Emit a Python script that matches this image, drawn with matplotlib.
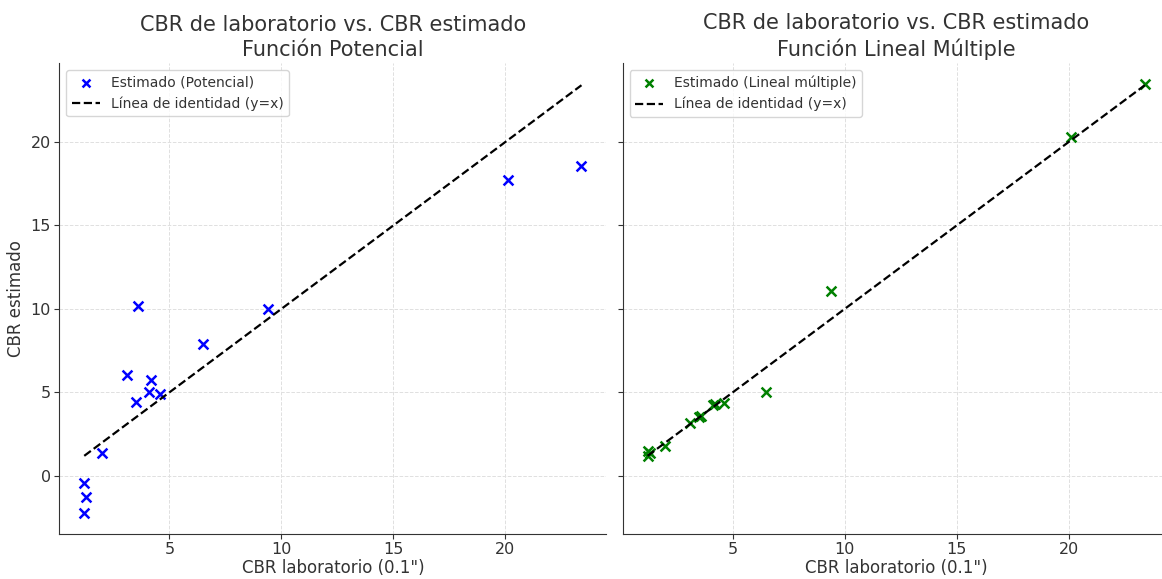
# CBR de laboratorio vs. CBR estimado: función potencial y lineal múltiple

import matplotlib
matplotlib.use("Agg")
import matplotlib.pyplot as plt

# -----------------------------
# Data
# -----------------------------
cbr_lab = [1.2, 1.3, 1.2, 2.0, 3.5, 3.1, 4.1, 4.2, 4.6, 3.6, 6.5, 9.4, 20.1, 23.4]
cbr_potencial = [-2.2, -1.25, -0.45, 1.35, 4.4, 6.05, 5.05, 5.75, 4.9, 10.2, 7.9, 10.0, 17.7, 18.55]
cbr_lineal = [1.2, 1.35, 1.5, 1.8, 3.5, 3.15, 4.25, 4.3, 4.35, 3.6, 5.0, 11.05, 20.3, 23.45]

identidad = [min(cbr_lab), max(cbr_lab)]

# -----------------------------
# Style
# -----------------------------
dark = "#333333"
plt.rcParams.update({
    "font.family": "DejaVu Sans",
    "text.color": dark,
    "axes.labelcolor": dark,
    "xtick.color": dark,
    "ytick.color": dark,
    "axes.edgecolor": dark,
})

fig = plt.figure(figsize=(11.62, 5.79), dpi=100)
ax1 = fig.add_axes([0.0511, 0.0777, 0.4707, 0.8135])
ax2 = fig.add_axes([0.5359, 0.0777, 0.4707, 0.8135], sharey=ax1)

panels = [
    (ax1, cbr_potencial, "blue", "Estimado (Potencial)", "Función Potencial"),
    (ax2, cbr_lineal, "green", "Estimado (Lineal múltiple)", "Función Lineal Múltiple"),
]

for ax, est, color, label, subtitle in panels:
    ax.scatter(cbr_lab, est, marker="x", color=color, s=50, linewidths=1.8, label=label)
    ax.plot(identidad, identidad, linestyle="--", color="black", linewidth=1.6,
            label="Línea de identidad (y=x)")
    ax.set_title(f"CBR de laboratorio vs. CBR estimado\n{subtitle}", fontsize=15,
                 color=dark, linespacing=1.3, pad=5)
    ax.set_xlabel('CBR laboratorio (0.1")', fontsize=12, labelpad=1)
    ax.grid(True, linestyle="--", color="#e0e0e0", linewidth=0.7)
    ax.set_axisbelow(True)
    for side in ["top", "right"]:
        ax.spines[side].set_visible(False)
    ax.tick_params(labelsize=11.5, pad=2.5)
    ax.set_xticks([5, 10, 15, 20])
    ax.legend(loc="upper left", fontsize=10, edgecolor="#cccccc", markerscale=0.8)

ax1.set_ylabel("CBR estimado", fontsize=12)
ax1.set_yticks([0, 5, 10, 15, 20])
ax2.tick_params(labelleft=False)

fig.savefig("out.png", dpi=100)
